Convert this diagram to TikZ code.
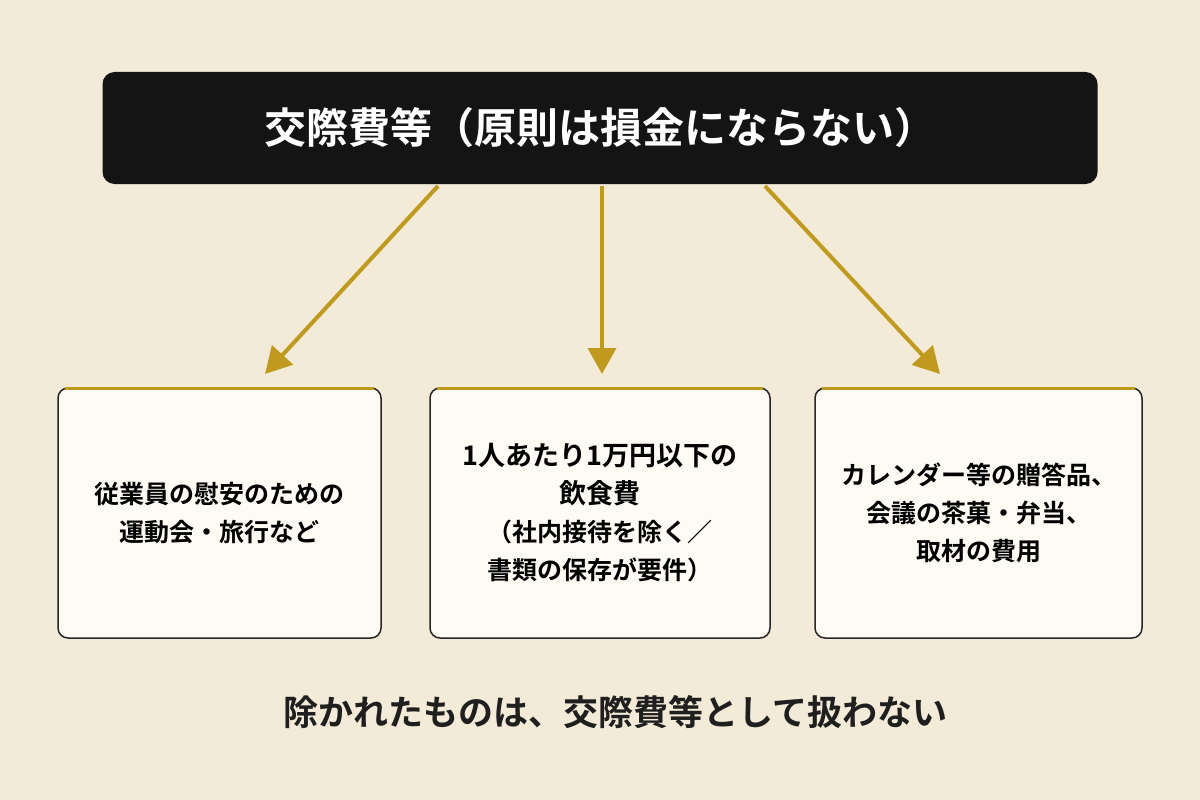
\documentclass[tikz,border=0pt]{standalone}
\usepackage{fontspec}
\newfontfamily\jpfont{Noto Sans CJK JP}[BoldFont={* Bold}]
\usetikzlibrary{arrows.meta}
\definecolor{bgcol}{HTML}{F3EBD8}
\definecolor{gold}{HTML}{C09A1E}
\definecolor{boxfill}{HTML}{FDFBF4}
\tikzset{
  item/.style={draw=black!85, line width=1.5pt, fill=boxfill, rounded corners=10pt,
    minimum height=250pt, align=center, font=\jpfont\bfseries\fontsize{25}{38}\selectfont},
  goldarrow/.style={draw=gold, line width=4pt, -{Triangle[length=26pt,width=28pt]}}
}
\begin{document}
\begin{tikzpicture}[x=1pt,y=-1pt]
\fill[bgcol] (0,0) rectangle (1200,800);
\useasboundingbox (0,0) rectangle (1200,800);
\node (top) [fill=black!92, rounded corners=12pt, minimum width=995pt, minimum height=112pt,
  text=white, font=\jpfont\bfseries\fontsize{42}{50}\selectfont] at (600,128) {交際費等（原則は損金にならない）};
\node (a) [item, minimum width=323pt] at (219.5,513) {従業員の慰安のための\\運動会・旅行など};
\node (b) [item, minimum width=340pt] at (600,513) {\fontsize{27}{38}\selectfont 1人あたり1万円以下の\\\fontsize{27}{38}\selectfont 飲食費\\（社内接待を除く／\\書類の保存が要件）};
\node (c) [item, minimum width=327pt] at (978.5,513) {カレンダー等の贈答品、\\会議の茶菓・弁当、\\取材の費用};
\foreach \n in {a,b,c}
  \draw[gold, line width=3pt] ([xshift=8pt,yshift=-1pt]\n.north west) -- ([xshift=-8pt,yshift=-1pt]\n.north east);
\coordinate (ta) at (438,186);
\coordinate (tb) at (602,186);
\coordinate (tc) at (765,186);
\coordinate (ha) at (265,374);
\coordinate (hb) at (602,374);
\coordinate (hc) at (940,374);
\draw[goldarrow] (ta) -- (ha);
\draw[goldarrow] (tb) -- (hb);
\draw[goldarrow] (tc) -- (hc);
\node (note) [font=\jpfont\bfseries\fontsize{35}{40}\selectfont, text=black!88] at (615,712) {除かれたものは、交際費等として扱わない};
\end{tikzpicture}
\end{document}
